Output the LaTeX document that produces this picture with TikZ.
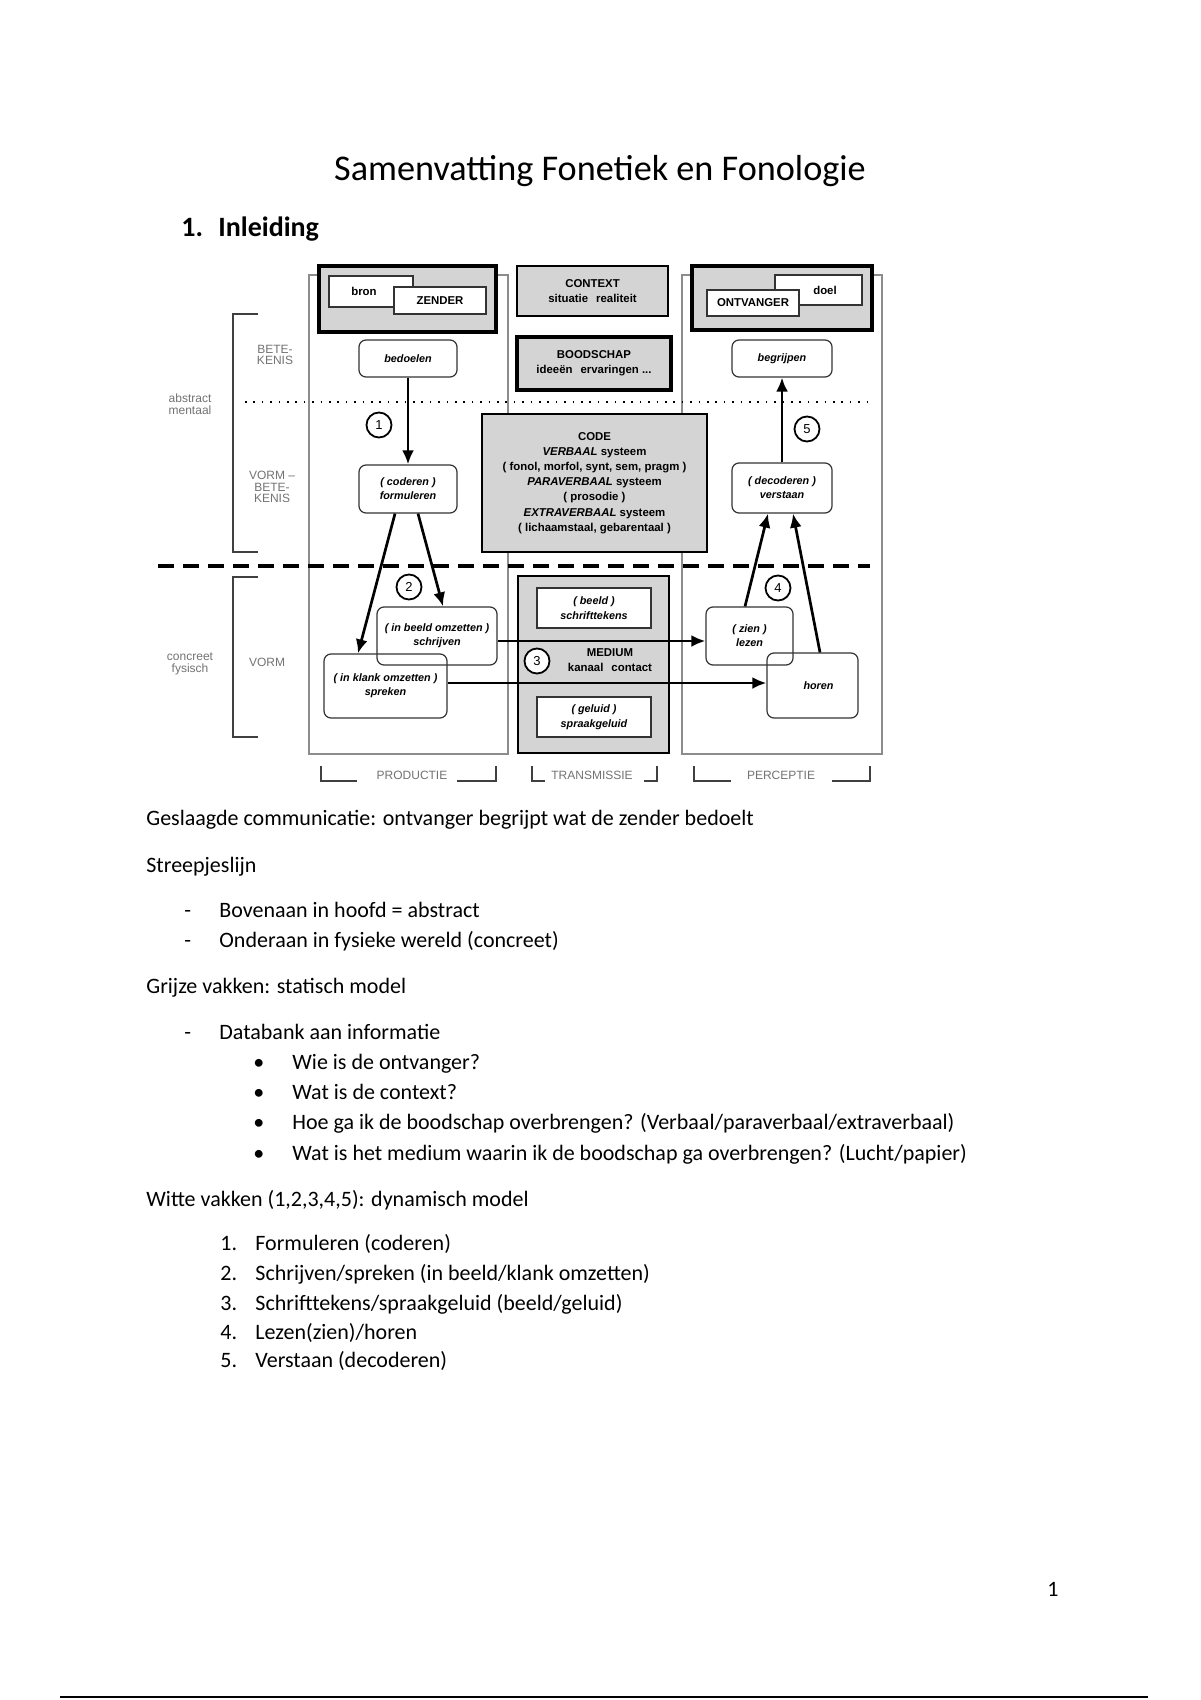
\documentclass[tikz,border=0pt]{standalone}
\usepackage{fontspec}
\setmainfont{Carlito}
\newfontfamily\diag{Liberation Sans}
\usetikzlibrary{calc,arrows.meta}
\definecolor{boxgray}{gray}{0.83}
\definecolor{labgray}{gray}{0.45}
\tikzset{
 colline/.style={draw=black!45, line width=0.6pt},
 graybox/.style={draw=black, fill=boxgray, line width=1.1pt, inner sep=0pt, align=center, font=\diag\bfseries\fontsize{5.7}{7.6}\selectfont},
 thickbox/.style={draw=black, fill=boxgray, line width=2.2pt, inner sep=0pt, align=center, font=\diag\bfseries\fontsize{5.7}{7.6}\selectfont},
 wbox/.style={draw=black!80, fill=white, line width=0.6pt, inner sep=0pt, align=center, font=\diag\bfseries\fontsize{5.7}{7.6}\selectfont},
 rbox/.style={draw=black!80, line width=0.6pt, rounded corners=3.5pt, inner sep=0pt, align=center, font=\diag\bfseries\itshape\fontsize{5.4}{7}\selectfont},
 num/.style={circle, draw=black, fill=white, line width=0.9pt, minimum size=12.5pt, inner sep=0pt, font=\diag\fontsize{6.5}{7}\selectfont},
 arr/.style={line width=1.35pt, -{Latex[length=7pt,width=6pt]}},
 dtext/.style={font=\diag\bfseries\fontsize{5.7}{7.6}\selectfont, align=center, inner sep=0pt},
 gtext/.style={font=\diag\fontsize{6}{7}\selectfont, text=labgray, align=center, inner sep=0pt},
 brk/.style={draw=black!75, line width=0.8pt},
 body/.style={font=\fontsize{11}{13}\selectfont, anchor=base west, inner sep=0pt},
}
\begin{document}
\begin{tikzpicture}[x=0.5pt,y=-0.5pt]
\useasboundingbox[fill=white] (0,0) rectangle (1200,1700);

% ---------- header ----------
\node[font=\fontsize{18.1}{20}\selectfont, anchor=base, inner sep=0pt] (title) at (600,181) {Samenvatting Fonetiek en Fonologie};
\node[font=\bfseries\fontsize{14}{16}\selectfont, anchor=base west, inner sep=0pt] (hnum) at (181,237) {1.};
\node[font=\bfseries\fontsize{14}{16}\selectfont, anchor=base west, inner sep=0pt] (head) at (218,237) {Inleiding};

% ---------- diagram: columns and separators ----------
\draw[colline] (309,275) rectangle (508,754);
\draw[colline] (682,275) rectangle (882,754);
\draw[line width=0.8pt, dash pattern=on 0.8pt off 3.4pt] (245,402) -- (872,402);
\draw[line width=1.6pt, dash pattern=on 8pt off 4.5pt] (158,566) -- (870,566);

% left brackets and labels
\draw[brk] (258,314) -| (233,552) -- (258,552);
\draw[brk] (258,577) -| (233,737) -- (258,737);
\node[gtext] (lbet1) at (275,355) {BETE-\\[-1.2pt]KENIS};
\node[gtext] (labs) at (190,404) {abstract\\[-1.2pt]mentaal};
\node[gtext] (lvb) at (272,487) {VORM –\\[-1.2pt]BETE-\\[-1.2pt]KENIS};
\node[gtext] (lconc) at (190,664) {concreet\\[-1.2pt]fysisch};
\node[gtext] (lvorm) at (267,662) {VORM};

% ---------- top boxes ----------
\node[thickbox, minimum width=88.5pt, minimum height=33pt] (zend) at (407.5,299) {};
\node[wbox, minimum width=42pt, minimum height=15.5pt] (bron) at (371,291.5) {};
\node[dtext] (brontxt) at (364,291) {bron};
\node[wbox, minimum width=46pt, minimum height=13.5pt] (zender) at (440,300.5) {ZENDER};

\node[graybox, minimum width=75.5pt, minimum height=25pt] (context) at (592.5,291) {CONTEXT\\situatie\hspace{4pt}realiteit};

\node[thickbox, minimum width=90pt, minimum height=32pt] (ontv) at (782,298) {};
\node[wbox, minimum width=43.5pt, minimum height=15pt] (doel) at (818.5,290) {};
\node[dtext] (doeltxt) at (825,290) {doel};
\node[wbox, minimum width=46pt, minimum height=13pt] (ontvanger) at (753,303) {ONTVANGER};

\node[thickbox, minimum width=77pt, minimum height=26.5pt] (boodschap) at (594,363.5) {BOODSCHAP\\ideeën\hspace{4pt}ervaringen ...};

\node[graybox, minimum width=112.5pt, minimum height=69pt] (code) at (594.5,483) {CODE\\\textit{VERBAAL} systeem\\( fonol, morfol, synt, sem, pragm )\\\textit{PARAVERBAAL} systeem\\( prosodie )\\\textit{EXTRAVERBAAL} systeem\\( lichaamstaal, gebarentaal )};

% ---------- medium ----------
\node[graybox, line width=1.3pt, minimum width=75.5pt, minimum height=88.5pt] (medium) at (593.5,664.5) {};
\node[wbox, font=\diag\bfseries\itshape\fontsize{5.4}{7.6}\selectfont, minimum width=57pt, minimum height=20pt] (beeld) at (594,608) {( beeld )\\schrifttekens};
\node[wbox, font=\diag\bfseries\itshape\fontsize{5.4}{7.6}\selectfont, minimum width=57pt, minimum height=20pt] (geluid) at (594,717) {( geluid )\\spraakgeluid};
\node[dtext] (medtxt) at (610,660) {MEDIUM\\kanaal\hspace{4pt}contact};

% ---------- white (dynamic) boxes ----------
\node[rbox, fill=white, minimum width=49pt, minimum height=18.5pt] (bedoelen) at (408,358.5) {bedoelen};
\node[rbox, fill=white, minimum width=50pt, minimum height=18.5pt] (begrijpen) at (782,358.5) {begrijpen};
\node[rbox, fill=white, minimum width=49pt, minimum height=24pt] (coderen) at (408,489) {( coderen )\\formuleren};
\node[rbox, fill=white, minimum width=50pt, minimum height=25pt] (decoderen) at (782,488) {( decoderen )\\verstaan};
\node[rbox, minimum width=60pt, minimum height=29pt] (schrijven) at (437,636) {( in beeld omzetten )\\schrijven};
\node[rbox, minimum width=61.5pt, minimum height=32pt] (spreken) at (385.5,686) {( in klank omzetten )\\spreken};
\node[rbox, minimum width=43.5pt, minimum height=29pt] (zien) at (749.5,636) {( zien )\\lezen};
\node[rbox, minimum width=45.5pt, minimum height=32.5pt] (horen) at (812.5,685.5) {\hspace{6pt}horen};

% ---------- arrows ----------
\draw[arr] (bedoelen.south) -- (coderen.north);
\draw[arr] ($(coderen.south)+(-13,0)$) -- ($(spreken.north)+(-27.5,0)$);
\draw[arr] ($(coderen.south)+(10,0)$) -- ($(schrijven.north)+(6,0)$);
\draw[arr] ($(schrijven.east)+(0,5)$) -- ($(zien.west)+(0,5)$);
\draw[arr] ($(spreken.east)+(0,-3)$) coordinate (sp3) -- (sp3 -| horen.west);
\draw[arr] ($(zien.north)+(-4.5,0)$) -- ($(decoderen.south)+(-14,0)$);
\draw[arr] ($(horen.north)+(7.5,0)$) -- ($(decoderen.south)+(11,0)$);
\draw[arr] (decoderen.north) -- (begrijpen.south);

% ---------- step numbers ----------
\node[num] (c1) at (379,425) {1};
\node[num] (c2) at (409,587) {2};
\node[num] (c3) at (537,661) {3};
\node[num] (c4) at (778,588) {4};
\node[num] (c5) at (807,429) {5};

% ---------- bottom labels ----------
\node[gtext] (lprod) at (412,775) {PRODUCTIE};
\draw[brk] (321,766) |- (357,781);
\draw[brk] (457,781) -| (496,766);
\node[gtext] (ltrans) at (592,775) {TRANSMISSIE};
\draw[brk] (532,766) |- (545,781);
\draw[brk] (644,781) -| (657,766);
\node[gtext] (lperc) at (781,775) {PERCEPTIE};
\draw[brk] (694,766) |- (731,781);
\draw[brk] (832,781) -| (870,766);

% ---------- body text ----------
\node[body] (t1) at (146,825) {Geslaagde communicatie: ontvanger begrijpt wat de zender bedoelt};
\node[body] (t2) at (146,872) {Streepjeslijn};
\node[body] (d1) at (184,917) {-};
\node[body] (t3) at (219,917) {Bovenaan in hoofd = abstract};
\node[body] (d2) at (184,947) {-};
\node[body] (t4) at (219,947) {Onderaan in fysieke wereld (concreet)};
\node[body] (t5) at (146,993) {Grijze vakken: statisch model};
\node[body] (d3) at (184,1039) {-};
\node[body] (t6) at (219,1039) {Databank aan informatie};
\node[body] (b1) at (253,1069) {•};
\node[body] (t7) at (292,1069) {Wie is de ontvanger?};
\node[body] (b2) at (253,1099) {•};
\node[body] (t8) at (292,1099) {Wat is de context?};
\node[body] (b3) at (253,1129) {•};
\node[body] (t9) at (292,1129) {Hoe ga ik de boodschap overbrengen? (Verbaal/paraverbaal/extraverbaal)};
\node[body] (b4) at (253,1160) {•};
\node[body] (t10) at (292,1160) {Wat is het medium waarin ik de boodschap ga overbrengen? (Lucht/papier)};
\node[body] (t11) at (146,1206) {Witte vakken (1,2,3,4,5): dynamisch model};
\node[body] (n1) at (220,1250) {1.};
\node[body] (t12) at (255,1250) {Formuleren (coderen)};
\node[body] (n2) at (220,1280) {2.};
\node[body] (t13) at (255,1280) {Schrijven/spreken (in beeld/klank omzetten)};
\node[body] (n3) at (220,1310) {3.};
\node[body] (t14) at (255,1310) {Schrifttekens/spraakgeluid (beeld/geluid)};
\node[body] (n4) at (220,1339) {4.};
\node[body] (t15) at (255,1339) {Lezen(zien)/horen};
\node[body] (n5) at (220,1367) {5.};
\node[body] (t16) at (255,1367) {Verstaan (decoderen)};

% ---------- footer ----------
\node[body] (pnum) at (1047,1596) {1};
\draw[line width=1pt] (60,1697) -- (1148,1697);
\end{tikzpicture}
\end{document}
